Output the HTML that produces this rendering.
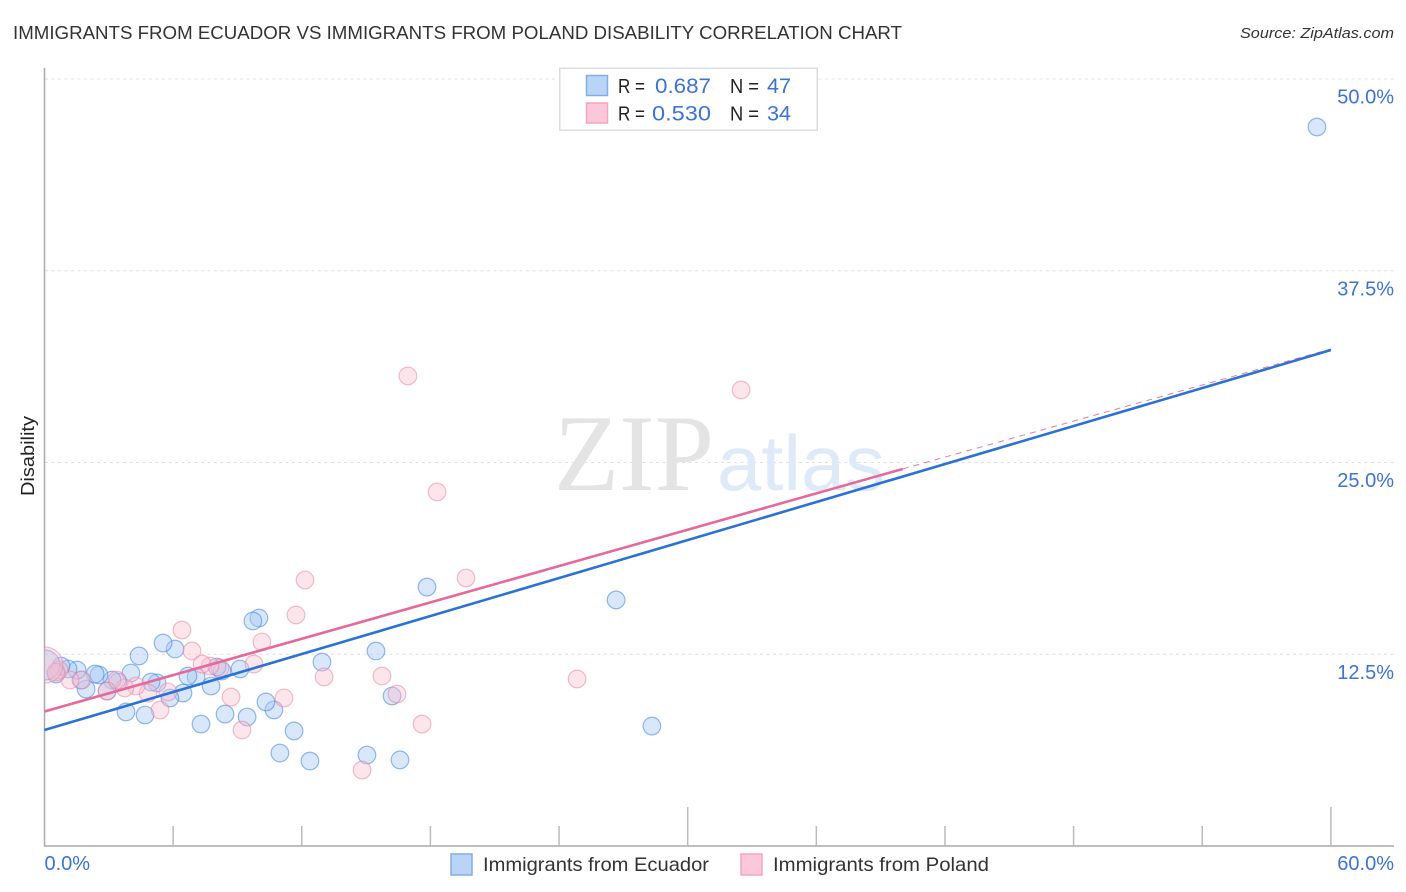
<!DOCTYPE html>
<html>
<head>
<meta charset="utf-8">
<title>Immigrants from Ecuador vs Immigrants from Poland Disability Correlation Chart</title>
<style>
html,body{margin:0;padding:0;background:#fff;}
svg{display:block;font-family:"Liberation Sans",sans-serif;}
</style>
</head>
<body>
<svg id="chart" width="1406" height="892" viewBox="0 0 1406 892" xmlns="http://www.w3.org/2000/svg">
  <defs><clipPath id="plot-clip"><rect x="44.5" y="60" width="1350" height="786"/></clipPath></defs>
  <text x="13" y="39" font-size="18.5" fill="#333" textLength="889" lengthAdjust="spacingAndGlyphs">IMMIGRANTS FROM ECUADOR VS IMMIGRANTS FROM POLAND DISABILITY CORRELATION CHART</text>
  <text x="1394" y="38" font-size="15" font-style="italic" fill="#333" text-anchor="end" textLength="154" lengthAdjust="spacingAndGlyphs">Source: ZipAtlas.com</text>
  <g id="grid"></g>
  <g>
    <text x="554" y="490" font-family="'Liberation Serif',serif" font-size="109" fill="#e4e4e4" textLength="160" lengthAdjust="spacingAndGlyphs">ZIP</text>
    <text x="717" y="490" font-size="78" fill="#dfeaf8" textLength="168" lengthAdjust="spacingAndGlyphs">atlas</text>
  </g>
  <g id="axes"></g>
  <g id="points" clip-path="url(#plot-clip)"></g>
  <g id="trends"></g>
  <g id="tick-labels"></g>
  <text transform="translate(34,456) rotate(-90)" font-size="18" fill="#222" text-anchor="middle" textLength="80" lengthAdjust="spacingAndGlyphs">Disability</text>

  <g>
    <rect x="559.75" y="68.25" width="257.5" height="62" fill="#fff" stroke="#ddd" stroke-width="1.5"/>
    <rect x="586.5" y="75.5" width="21" height="20" fill="#b9d4f7" stroke="#82aee6" stroke-width="1.5"/>
    <rect x="586.5" y="103" width="21" height="20" fill="#fcc7d8" stroke="#f3a6c0" stroke-width="1.5"/>
    <text x="618" y="93" font-size="20" fill="#222" textLength="27" lengthAdjust="spacingAndGlyphs">R =</text>
    <text x="711" y="93" font-size="21" fill="#3b74d2" text-anchor="end" textLength="56" lengthAdjust="spacingAndGlyphs">0.687</text>
    <text x="730" y="93" font-size="20" fill="#222" textLength="29" lengthAdjust="spacingAndGlyphs">N =</text>
    <text x="767" y="93" font-size="21" fill="#3b74d2" textLength="24" lengthAdjust="spacingAndGlyphs">47</text>
    <text x="618" y="120.5" font-size="20" fill="#222" textLength="27" lengthAdjust="spacingAndGlyphs">R =</text>
    <text x="711" y="120.5" font-size="21" fill="#3b74d2" text-anchor="end" textLength="59" lengthAdjust="spacingAndGlyphs">0.530</text>
    <text x="730" y="120.5" font-size="20" fill="#222" textLength="29" lengthAdjust="spacingAndGlyphs">N =</text>
    <text x="767" y="120.5" font-size="21" fill="#3b74d2" textLength="24" lengthAdjust="spacingAndGlyphs">34</text>
  </g>

  <g>
    <rect x="451" y="854" width="21" height="21" fill="#b9d4f7" stroke="#82aee6" stroke-width="1.5"/>
    <text x="483" y="871" font-size="19.5" fill="#333" textLength="226" lengthAdjust="spacingAndGlyphs">Immigrants from Ecuador</text>
    <rect x="741" y="854" width="21" height="21" fill="#fcc7d8" stroke="#f3a6c0" stroke-width="1.5"/>
    <text x="773" y="871" font-size="19.5" fill="#333" textLength="216" lengthAdjust="spacingAndGlyphs">Immigrants from Poland</text>
  </g>
</svg>
<script>
var ecuadorX = [59.35,26.66,28.33,17.84,15.46,12.94,16.21,15.04,16.58,12.38,10.98,11.64,10.70,10.33,10.00,9.72,9.45,8.42,7.30,9.12,8.28,8.05,7.77,7.07,6.69,6.46,5.85,6.09,5.53,5.25,4.97,4.41,4.69,3.80,4.03,3.43,3.15,2.92,2.54,2.36,1.94,1.70,1.52,1.10,0.77,0.54,0.02];
var ecuadorY = [46.87,16.04,7.82,16.88,12.71,11.99,9.78,5.93,5.61,5.54,6.06,7.50,8.87,9.39,14.86,14.67,8.41,8.60,7.95,11.54,11.41,11.67,10.43,11.02,11.08,9.97,9.65,12.84,13.23,10.63,10.69,12.39,8.54,8.74,11.28,10.69,10.82,10.10,11.15,11.21,10.23,10.82,11.47,11.54,11.73,11.21,11.80];
var polandX = [16.95,32.49,18.31,19.66,12.15,11.73,6.41,10.14,6.88,24.84,13.04,15.74,16.44,11.17,8.70,9.77,8.19,7.72,7.35,5.76,5.39,9.21,17.61,14.81,4.83,4.27,3.75,2.92,3.38,1.75,1.19,0.68,0.54,0.02];
var polandY = [30.64,29.73,23.08,17.47,17.34,15.06,14.08,13.30,12.71,10.89,11.02,11.08,9.91,9.65,9.71,11.86,11.60,11.73,11.86,10.04,8.87,7.56,7.95,4.95,9.97,10.43,10.30,10.10,10.82,10.82,10.82,11.47,11.34,11.80];
var ecuadorTrendX = [0, 60];
var ecuadorTrendY = [7.56, 32.33];
var polandTrendX = [0, 40.03];
var polandTrendY = [8.77, 24.58];
var polandDashX = [40.03, 60];
var polandDashY = [24.58, 32.4];
var xTickValues = [0,6,12,18,24,30,36,42,48,54,60];
var yTickValues = [12.5,25,37.5,50];
var yTickLabels = ["12.5%","25.0%","37.5%","50.0%"];
var xEndValues = [0,60];
var xEndLabels = ["0.0%","60.0%"];

var NS = "http://www.w3.org/2000/svg";
function xScale(v){ return 44.5 + v * 21.44; }
function yScale(v){ return 846 - v * 15.34; }
function make(tag, attrs, parent){
  var el = document.createElementNS(NS, tag);
  for (var k in attrs) el.setAttribute(k, attrs[k]);
  parent.appendChild(el);
  return el;
}
var grid = document.getElementById("grid");
var axes = document.getElementById("axes");
var points = document.getElementById("points");
var trends = document.getElementById("trends");
var tickLabels = document.getElementById("tick-labels");

yTickValues.forEach(function(v, i){
  var line = make("line", {x1:45, x2:1394, y1:yScale(v), y2:yScale(v), stroke:"#e0e0e0", "stroke-width":1, "stroke-dasharray":"3 3.5"}, grid);
  
  
  var label = make("text", {x:1394, y:yScale(v)+24.5, "font-size":20, fill:"#3b74d2", "text-anchor":"end"}, tickLabels);
  label.textContent = yTickLabels[i];
  
  
});

var yAxis = make("line", {x1:44.5, x2:44.5, y1:68, y2:846, stroke:"#aaa", "stroke-width":1.5}, axes);


var xAxis = make("line", {x1:44, x2:1394, y1:846, y2:846, stroke:"#aaa", "stroke-width":1.5}, axes);



xTickValues.forEach(function(v){
  if (v === 0) return;
  var top = (v === 30 || v === 60) ? 807 : 826;
  var tick = make("line", {x1:xScale(v), x2:xScale(v), y1:top, y2:846, stroke:"#bbb", "stroke-width":1.5}, axes);
  
  
});

xEndValues.forEach(function(v, i){
  var label = make("text", {x:i === 0 ? xScale(v) : 1394, y:870, "font-size":20, fill:"#3b74d2", "text-anchor":i === 0 ? "start" : "end"}, tickLabels);
  label.textContent = xEndLabels[i];
  
  
});

ecuadorX.forEach(function(v, i){
  var big = i === ecuadorX.length - 1;
  var dot = make("circle", {cx:xScale(v), cy:yScale(ecuadorY[i]), r:big ? 15 : 8.8, fill:"#a9caf3", "fill-opacity":0.45, stroke:"#3f82de", "stroke-opacity":0.55, "stroke-width":1.2}, points);
  
  
});
polandX.forEach(function(v, i){
  var big = i === polandX.length - 1;
  var dot = make("circle", {cx:xScale(v), cy:yScale(polandY[i]), r:big ? 18 : 8.8, fill:"#fbbdd0", "fill-opacity":0.4, stroke:"#ea85a6", "stroke-opacity":0.55, "stroke-width":1.2}, points);
  
  
});

var pd = make("line", {x1:xScale(polandDashX[0]), y1:yScale(polandDashY[0]), x2:xScale(polandDashX[1]), y2:yScale(polandDashY[1]), stroke:"#e8799f", "stroke-width":1, "stroke-dasharray":"6 5"}, trends);


var bt = make("line", {x1:xScale(ecuadorTrendX[0]), y1:yScale(ecuadorTrendY[0]), x2:xScale(ecuadorTrendX[1]), y2:yScale(ecuadorTrendY[1]), stroke:"#2a72d6", "stroke-width":2.6}, trends);


var pt = make("line", {x1:xScale(polandTrendX[0]), y1:yScale(polandTrendY[0]), x2:xScale(polandTrendX[1]), y2:yScale(polandTrendY[1]), stroke:"#e8689a", "stroke-width":2.6}, trends);


</script>
</body>
</html>
